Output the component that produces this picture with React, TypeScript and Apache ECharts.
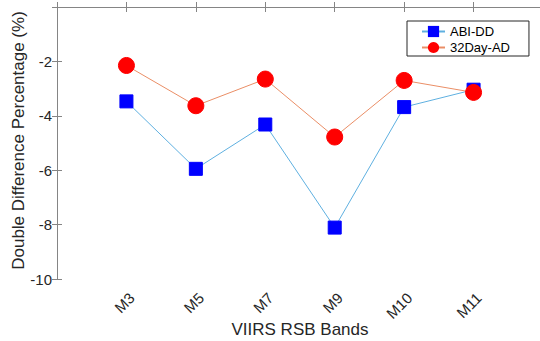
import React, { useEffect, useRef } from "react";
import * as echarts from "echarts";

const bands = ["M3", "M5", "M7", "M9", "M10", "M11"];
const abiDD = [-3.47, -5.95, -4.32, -8.11, -3.68, -3.04];
const day32AD = [-2.15, -3.63, -2.65, -4.78, -2.7, -3.14];
const yTicks = [-10, -8, -6, -4, -2, 0];

const FONT = "'Liberation Sans', Arial, Helvetica, sans-serif";
const AXIS_COLOR = "#858585";
const TEXT_COLOR = "#262626";

export default function App() {
  const ref = useRef<HTMLDivElement>(null);
  useEffect(() => {
    if (!ref.current) return;
    const chart = echarts.init(ref.current, undefined, { renderer: "svg" });
    const toPairs = (arr: number[]) => arr.map((v, i) => [i + 1, v]);
    chart.setOption({
      animation: false,
      textStyle: { fontFamily: FONT },
      grid: { left: 57, top: 7, width: 486, height: 272, containLabel: false, outerBoundsMode: "none" },
      legend: {
        left: 407,
        top: 21,
        orient: "vertical",
        borderColor: "#262626",
        borderWidth: 1,
        padding: [4, 19, 2, 14],
        itemGap: 3,
        itemWidth: 23,
        itemHeight: 14,
        textStyle: { fontFamily: FONT, fontSize: 13, color: "#000" },
        data: ["ABI-DD", "32Day-AD"],
      },
      xAxis: [
        {
          type: "value",
          min: 0,
          max: bands.length + 1,
          interval: 1,
          position: "bottom",
          name: "VIIRS RSB Bands",
          nameLocation: "middle",
          nameGap: 42,
          nameMoveOverlap: false,
          nameTruncate: { maxWidth: null },
          nameTextStyle: { fontFamily: FONT, fontSize: 17, color: TEXT_COLOR, overflow: "none" },
          axisLine: { show: true, lineStyle: { color: AXIS_COLOR, width: 1 } },
          axisTick: { show: true, inside: true, length: 5, lineStyle: { color: AXIS_COLOR } },
          splitLine: { show: false },
          axisLabel: {
            rotate: 45,
            align: "right",
            verticalAlign: "top",
            margin: 11,
            fontFamily: FONT,
            fontSize: 15,
            color: TEXT_COLOR,
            formatter: (v: number) => (v >= 1 && v <= bands.length ? bands[v - 1] : ""),
          },
        },
        {
          type: "value",
          min: 0,
          max: bands.length + 1,
          interval: 1,
          position: "top",
          axisLine: { show: true, lineStyle: { color: AXIS_COLOR, width: 1 } },
          axisTick: { show: true, inside: true, length: 5, lineStyle: { color: AXIS_COLOR } },
          axisLabel: { show: false },
          splitLine: { show: false },
        },
      ],
      yAxis: [
        {
          type: "value",
          min: yTicks[0],
          max: yTicks[yTicks.length - 1],
          interval: 2,
          position: "left",
          name: "Double Difference Percentage (%)",
          nameLocation: "middle",
          nameGap: 30,
          nameMoveOverlap: false,
          nameTextStyle: { fontFamily: FONT, fontSize: 17, color: TEXT_COLOR, padding: [0, 0, 0, 5] },
          axisLine: { show: true, lineStyle: { color: AXIS_COLOR, width: 1 } },
          axisTick: { show: true, inside: true, length: 5, lineStyle: { color: AXIS_COLOR } },
          splitLine: { show: false },
          axisLabel: {
            fontFamily: FONT,
            fontSize: 15,
            color: TEXT_COLOR,
            margin: 5,
            formatter: (v: number) => (v === 0 ? "" : String(v)),
          },
        },
        {
          type: "value",
          min: yTicks[0],
          max: yTicks[yTicks.length - 1],
          interval: 2,
          position: "right",
          axisLine: { show: true, lineStyle: { color: AXIS_COLOR, width: 1 } },
          axisTick: { show: true, inside: true, length: 5, lineStyle: { color: AXIS_COLOR } },
          axisLabel: { show: false },
          splitLine: { show: false },
        },
      ],
      series: [
        {
          name: "ABI-DD",
          type: "line",
          data: toPairs(abiDD),
          symbol: "rect",
          symbolSize: 13,
          lineStyle: { color: "#5fb0e0", width: 1 },
          itemStyle: { color: "#0000ff", borderColor: "#0000ff" },
          z: 2,
        },
        {
          name: "32Day-AD",
          type: "line",
          data: toPairs(day32AD),
          symbol: "circle",
          symbolSize: 16,
          lineStyle: { color: "#ea8e66", width: 1 },
          itemStyle: { color: "#ff0000", borderColor: "#ff0000" },
          z: 3,
        },
      ],
    });
    return () => chart.dispose();
  }, []);
  return (
    <div
      ref={ref}
      style={{ position: "absolute", left: 0, top: 0, width: 540, height: 341, background: "#fff" }}
    />
  );
}
